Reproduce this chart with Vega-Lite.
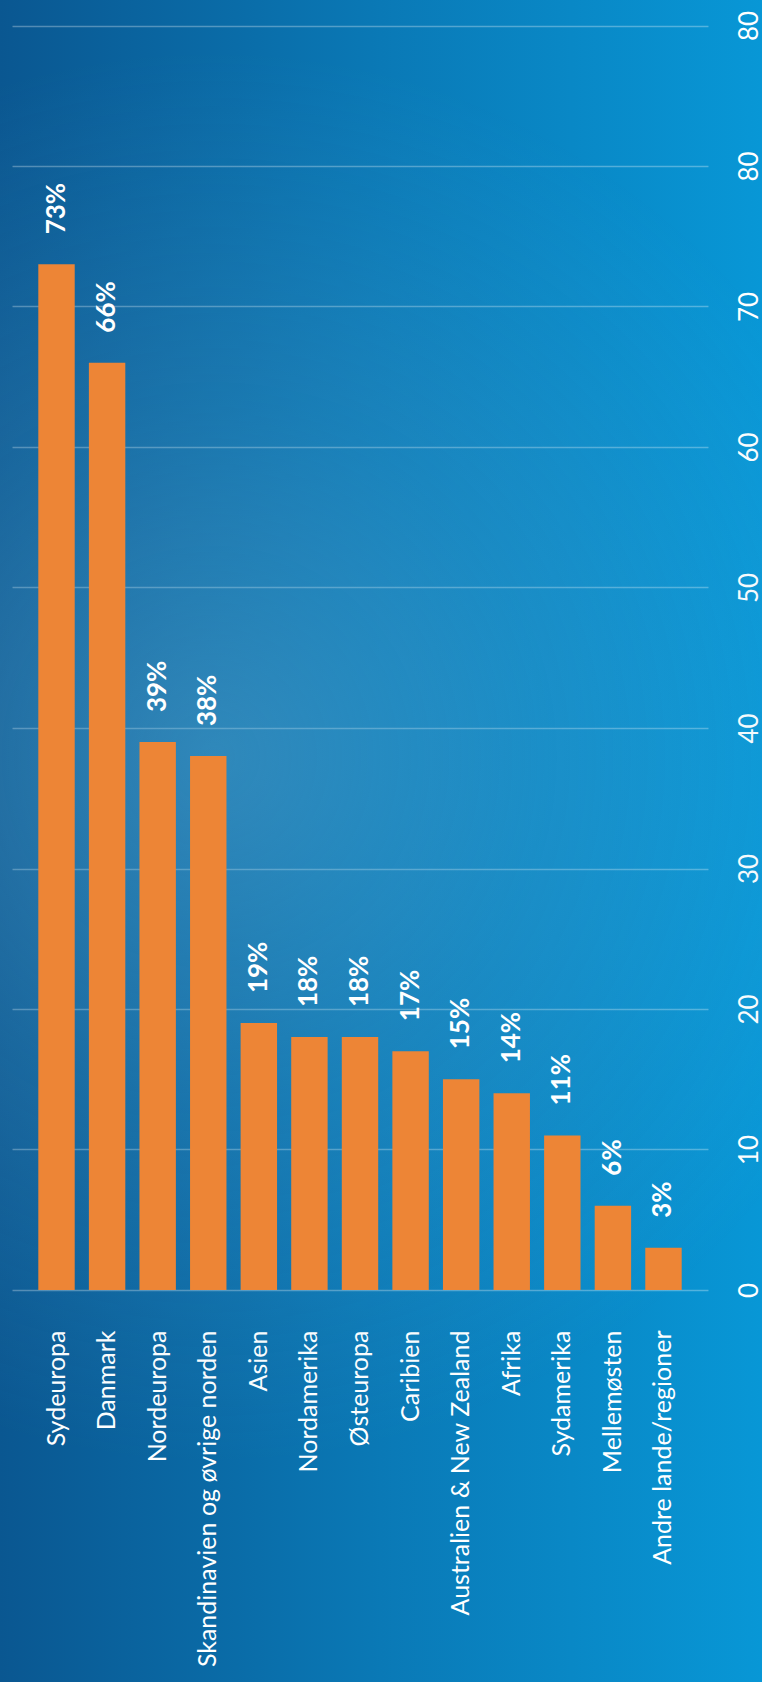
{
  "$schema": "https://vega.github.io/schema/vega-lite/v6.json",
  "width": 762,
  "height": 1682,
  "autosize": {"type": "none"},
  "padding": 0,
  "background": "#0a78b5",
  "view": {
    "stroke": null,
    "fill": {
      "gradient": "linear",
      "x1": 0, "y1": 0.5, "x2": 1, "y2": 0.5,
      "stops": [
        {"offset": 0, "color": "#0a5791"},
        {"offset": 0.5, "color": "#0a79b6"},
        {"offset": 1, "color": "#0897d6"}
      ]
    }
  },
  "data": {
    "values": [
      {"region": "Sydeuropa", "value": 73, "label": "73%"},
      {"region": "Danmark", "value": 66, "label": "66%"},
      {"region": "Nordeuropa", "value": 39, "label": "39%"},
      {"region": "Skandinavien og øvrige norden", "value": 38, "label": "38%"},
      {"region": "Asien", "value": 19, "label": "19%"},
      {"region": "Nordamerika", "value": 18, "label": "18%"},
      {"region": "Østeuropa", "value": 18, "label": "18%"},
      {"region": "Caribien", "value": 17, "label": "17%"},
      {"region": "Australien & New Zealand", "value": 15, "label": "15%"},
      {"region": "Afrika", "value": 14, "label": "14%"},
      {"region": "Sydamerika", "value": 11, "label": "11%"},
      {"region": "Mellemøsten", "value": 6, "label": "6%"},
      {"region": "Andre lande/regioner", "value": 3, "label": "3%"}
    ]
  },
  "layer": [
    {
      "data": {"values": [{"bg": 1}]},
      "mark": {
        "type": "rect",
        "fill": {
          "gradient": "radial",
          "x1": 0.4, "y1": 0.45, "r1": 0,
          "x2": 0.4, "y2": 0.45, "r2": 0.42,
          "stops": [
            {"offset": 0, "color": "rgba(110,185,220,0.38)"},
            {"offset": 0.5, "color": "rgba(110,185,220,0.16)"},
            {"offset": 1, "color": "rgba(110,185,220,0)"}
          ]
        }
      },
      "encoding": {}
    },
    {
      "mark": {"type": "bar", "color": "#ED8536"},
      "encoding": {
        "x": {
          "field": "region",
          "type": "nominal",
          "sort": null,
          "scale": {"range": [12, 708], "paddingInner": 0.28, "paddingOuter": 0.52},
          "axis": {
            "title": null,
            "orient": "bottom",
            "offset": -352,
            "labelAngle": 270,
            "labelAlign": "right",
            "labelBaseline": "middle",
            "labelPadding": 0,
            "ticks": false,
            "domain": false,
            "grid": false,
            "labelFont": "Lato",
            "labelFontWeight": 400,
            "labelFontSize": 25,
            "labelColor": "#ffffff",
            "labelLimit": 500
          }
        },
        "y": {
          "field": "value",
          "type": "quantitative",
          "scale": {"domain": [0, 90], "range": [1290, 25.5], "nice": false},
          "axis": {
            "title": null,
            "orient": "left",
            "values": [0, 10, 20, 30, 40, 50, 60, 70, 80, 90],
            "labelExpr": "datum.value == 90 ? '80' : datum.label",
            "offset": -736,
            "labelAngle": 270,
            "labelAlign": "center",
            "labelBaseline": "top",
            "labelPadding": 0,
            "ticks": false,
            "domain": false,
            "grid": true,
            "gridColor": "#ffffff",
            "gridOpacity": 0.3,
            "gridWidth": 1.5,
            "labelFont": "Lato",
            "labelFontWeight": 400,
            "labelFontSize": 26,
            "labelColor": "#ffffff"
          }
        }
      }
    },
    {
      "mark": {
        "type": "text",
        "angle": 270,
        "align": "left",
        "baseline": "middle",
        "dx": 30,
        "font": "Lato",
        "fontWeight": "bold",
        "fontSize": 26,
        "color": "#ffffff"
      },
      "encoding": {
        "x": {"field": "region", "type": "nominal", "sort": null},
        "y": {"field": "value", "type": "quantitative"},
        "text": {"field": "label"}
      }
    }
  ]
}
